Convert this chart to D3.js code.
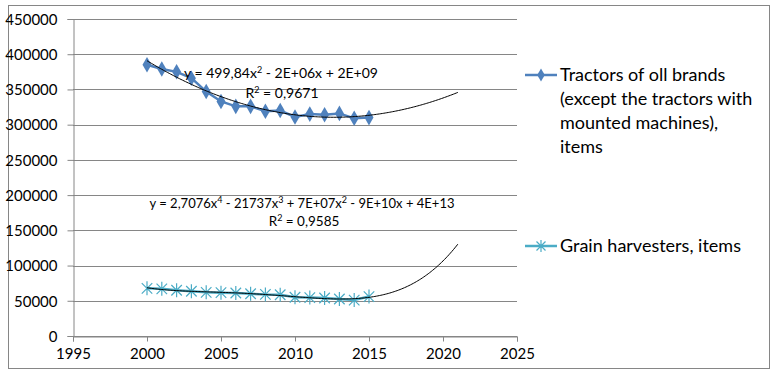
<!DOCTYPE html>
<html>
<head>
<meta charset="utf-8">
<script src="https://cdn.jsdelivr.net/npm/d3@7"></script>
<style>
  body { margin: 0; background: #fff; }
  svg { font-family: Lato, "Liberation Sans", sans-serif; }
</style>
</head>
<body>
<svg id="chart"></svg>
<script>
// data
var years = [2000, 2001, 2002, 2003, 2004, 2005, 2006, 2007, 2008, 2009, 2010, 2011, 2012, 2013, 2014, 2015];
var tractors = [385000, 379000, 375000, 366000, 347000, 333000, 326000, 326000, 319000, 320000, 311000, 315000, 314000, 316000, 309000, 310000];
var harvesters = [67700, 67000, 65000, 63500, 62000, 61500, 61000, 60000, 59000, 58500, 55000, 54500, 54000, 52500, 51000, 56000];
var xTicks = [1995, 2000, 2005, 2010, 2015, 2020, 2025];
var yTicks = [0, 50000, 100000, 150000, 200000, 250000, 300000, 350000, 400000, 450000];
var tractorLegend = ["Tractors of oll brands", "(except the tractors with", "mounted machines),", "items"];
var harvesterLegend = ["Grain harvesters, items"];

var width = 780, height = 375;
var svg = d3.select("#chart").attr("width", width).attr("height", height);

var blue = "#4f81bd", aqua = "#4bacc6", grid = "#868686";

// outer border
svg.append("rect").attr("x", 8.5).attr("y", 5.5).attr("width", 761).attr("height", 363)
  .attr("fill", "none").attr("stroke", grid);

var x = d3.scaleLinear().domain([1995, 2025]).range([73, 517]);
var y = d3.scaleLinear().domain([0, 450000]).range([336, 19]);

// gridlines
svg.append("g").selectAll("line").data(yTicks).join("line")
  .attr("x1", 73).attr("x2", 517)
  .attr("y1", d => Math.round(y(d)) + 0.5).attr("y2", d => Math.round(y(d)) + 0.5)
  .attr("stroke", grid);

// axes
var yAxis = svg.append("g").attr("transform", "translate(73.5,0)")
  .call(d3.axisLeft(y).tickValues(yTicks).tickSize(6).tickPadding(10).tickFormat(d3.format("d")));
var xAxis = svg.append("g").attr("transform", "translate(0,336.5)")
  .call(d3.axisBottom(x).tickValues(xTicks).tickSize(5).tickPadding(7).tickFormat(d3.format("d")));
[yAxis, xAxis].forEach(function (a) {
  a.select(".domain").attr("stroke", grid);
  a.selectAll(".tick line").attr("stroke", grid);
  a.selectAll("text").attr("fill", "#000").style("font-size", "15px").style("font-family", "Lato, sans-serif");
});
yAxis.selectAll(".tick text").attr("dy", "0.35em");

// least squares polynomial fit (centered x)
function polyfit(xs, ys, deg) {
  var m = d3.mean(xs);
  var n = deg + 1, A = [], b = [];
  for (var i = 0; i < n; i++) {
    A.push(new Array(n).fill(0)); b.push(0);
  }
  xs.forEach(function (xv, k) {
    var t = xv - m;
    for (var i = 0; i < n; i++) {
      b[i] += ys[k] * Math.pow(t, i);
      for (var j = 0; j < n; j++) A[i][j] += Math.pow(t, i + j);
    }
  });
  // gaussian elimination
  for (var c = 0; c < n; c++) {
    var p = c;
    for (var r = c + 1; r < n; r++) if (Math.abs(A[r][c]) > Math.abs(A[p][c])) p = r;
    [A[c], A[p]] = [A[p], A[c]]; [b[c], b[p]] = [b[p], b[c]];
    for (var r = c + 1; r < n; r++) {
      var f = A[r][c] / A[c][c];
      for (var j = c; j < n; j++) A[r][j] -= f * A[c][j];
      b[r] -= f * b[c];
    }
  }
  var co = new Array(n).fill(0);
  for (var i = n - 1; i >= 0; i--) {
    var s = b[i];
    for (var j = i + 1; j < n; j++) s -= A[i][j] * co[j];
    co[i] = s / A[i][i];
  }
  return function (xv) {
    var t = xv - m, s = 0;
    for (var i = 0; i < n; i++) s += co[i] * Math.pow(t, i);
    return s;
  };
}

var line = d3.line().x(d => x(d[0])).y(d => y(d[1]));
var diamond = d3.symbol().type(d3.symbolDiamond).size(70);

function asterisk(g, cx, cy, r) {
  var a = r * 0.75;
  g.append("path")
    .attr("d", "M" + (cx - a) + "," + (cy - a) + "L" + (cx + a) + "," + (cy + a) +
      "M" + (cx - a) + "," + (cy + a) + "L" + (cx + a) + "," + (cy - a) +
      "M" + cx + "," + (cy - r) + "L" + cx + "," + (cy + r))
    .attr("stroke", aqua).attr("stroke-width", 1.2).attr("fill", "none");
}

// tractors series
svg.append("path").datum(d3.zip(years, tractors)).attr("d", line)
  .attr("fill", "none").attr("stroke", blue).attr("stroke-width", 2.5);
svg.append("g").selectAll("path").data(d3.zip(years, tractors)).join("path")
  .attr("d", diamond).attr("fill", blue)
  .attr("transform", d => "translate(" + x(d[0]) + "," + y(d[1]) + ")");

// harvesters series
svg.append("path").datum(d3.zip(years, harvesters)).attr("d", line)
  .attr("fill", "none").attr("stroke", aqua).attr("stroke-width", 2.5);
var hg = svg.append("g");
d3.zip(years, harvesters).forEach(function (d) { asterisk(hg, x(d[0]), y(d[1]), 7); });

// trendlines, fitted from the data and extended to 2021
var span = d3.range(2000, 2021.01, 0.1);
var fitT = polyfit(years, tractors, 2);
var fitH = polyfit(years, harvesters, 4);
svg.append("path").datum(span.map(v => [v, fitT(v)])).attr("d", line)
  .attr("fill", "none").attr("stroke", "#000").attr("stroke-width", 1);
svg.append("path").datum(span.map(v => [v, fitH(v)])).attr("d", line)
  .attr("fill", "none").attr("stroke", "#000").attr("stroke-width", 1);

// equations
function eq(parts, cx, by, fs) {
  var t = svg.append("text").attr("x", cx).attr("y", by).attr("text-anchor", "middle")
    .style("font-size", fs + "px");
  parts.forEach(function (p) {
    if (p.sup) t.append("tspan").text(p.sup).attr("dy", "-5").style("font-size", "9px");
    else t.append("tspan").text(p.t).attr("dy", p.after ? "5" : null);
  });
}
eq([{ t: "y = 499,84x" }, { sup: "2" }, { t: " - 2E+06x + 2E+09", after: true }], 281, 78, 14);
eq([{ t: "R" }, { sup: "2" }, { t: " = 0,9671", after: true }], 282, 98, 14);
eq([{ t: "y = 2,7076x" }, { sup: "4" }, { t: " - 21737x", after: true }, { sup: "3" },
  { t: " + 7E+07x", after: true }, { sup: "2" }, { t: " - 9E+10x + 4E+13", after: true }], 302, 208, 13);
eq([{ t: "R" }, { sup: "2" }, { t: " = 0,9585", after: true }], 304, 226, 13.5);

// legend
var lg = svg.append("g");
lg.append("line").attr("x1", 525).attr("x2", 557).attr("y1", 75).attr("y2", 75)
  .attr("stroke", blue).attr("stroke-width", 2.5);
lg.append("path").attr("d", d3.symbol().type(d3.symbolDiamond).size(50)).attr("fill", blue)
  .attr("transform", "translate(541,75)");
lg.selectAll("text.t").data(tractorLegend).join("text").attr("class", "t")
  .attr("x", 560).attr("y", (d, i) => 81 + i * 24).style("font-size", "18px").text(d => d);
lg.append("line").attr("x1", 525).attr("x2", 557).attr("y1", 246).attr("y2", 246)
  .attr("stroke", aqua).attr("stroke-width", 2.5);
asterisk(lg, 541, 246, 6);
lg.selectAll("text.h").data(harvesterLegend).join("text").attr("class", "h")
  .attr("x", 560).attr("y", 252).style("font-size", "18px").text(d => d);
</script>
</body>
</html>
